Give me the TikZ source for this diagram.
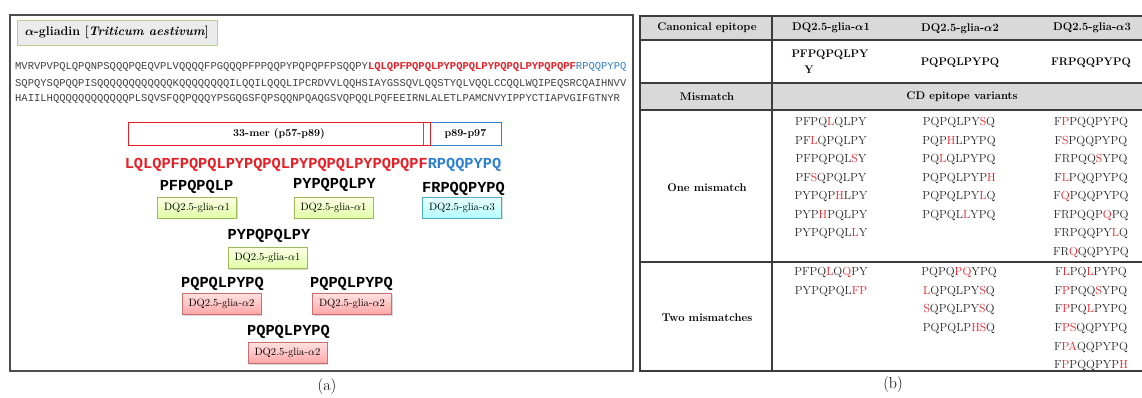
\documentclass[tikz,border=0pt]{standalone}
\usepackage{amsmath}
\usepackage{fontspec}
\newfontfamily\seqfont{Liberation Mono}
\usetikzlibrary{positioning,shadows}

\definecolor{seqred}{RGB}{232,30,37}
\definecolor{seqblue}{RGB}{45,128,205}
\definecolor{glgreen}{RGB}{155,187,89}
\definecolor{glblue}{RGB}{75,172,198}
\definecolor{glred}{RGB}{205,110,110}
\definecolor{bandgray}{RGB}{217,217,217}
\definecolor{rulegray}{RGB}{60,60,60}
\newcommand{\mut}[1]{\textcolor{seqred}{#1}}

\begin{document}
\begin{tikzpicture}[
  x=1pt, y=-1pt,
  seq/.style={font=\seqfont\fontsize{10.5}{12}\selectfont, text=black!75, anchor=west, inner sep=0pt},
  ep/.style={font=\seqfont\bfseries\fontsize{15.3}{16}\selectfont, inner sep=0pt},
  dq/.style={draw, minimum width=79pt, minimum height=21pt, inner sep=0pt,
             font=\fontsize{10.6}{12}\selectfont,
             drop shadow={opacity=0.3, shadow xshift=1pt, shadow yshift=-1pt}},
  dqa/.style={dq, draw=glgreen, top color=green!8!yellow!10, bottom color=green!35!yellow!35},
  dqb/.style={dq, draw=glblue, top color=cyan!8, bottom color=cyan!30},
  dqc/.style={dq, draw=glred, top color=red!12, bottom color=red!35},
  hd/.style={font=\bfseries\fontsize{11.2}{13}\selectfont, inner sep=0pt},
  canon/.style={font=\bfseries\fontsize{11}{13}\selectfont, inner sep=0pt},
  var/.style={font=\fontsize{11.7}{13}\selectfont, text=black!85, inner sep=0pt},
  tab/.style={draw=rulegray, line width=1.1pt},
]
\useasboundingbox (0,0) rectangle (1142,398);

% panel (a)
\draw[black!70, line width=1.2pt] (10,15) rectangle (633,371);
\node[draw=glgreen!70, fill=black!8, minimum width=200pt, minimum height=25pt, inner sep=0pt,
      font=\bfseries\fontsize{12.5}{14}\selectfont,
      drop shadow={opacity=0.3, shadow xshift=1pt, shadow yshift=-1pt}]
  (title) at (117,32.5) {$\boldsymbol{\alpha}$-gliadin [\textit{Triticum aestivum}]};

\node[seq] (l1) at (15,67.5) {MVRVPVPQLQPQNPSQQQPQEQVPLVQQQQFPGQQQPFPPQQPYPQPQPFPSQQPY\textcolor{seqred}{\bfseries LQLQPFPQPQLPYPQPQLPYPQPQLPYPQPQPF}\textcolor{seqblue}{RPQQPYPQ}};
\node[seq] (l2) at (15,83.5) {SQPQYSQPQQPISQQQQQQQQQQQQKQQQQQQQQILQQILQQQLIPCRDVVLQQHSIAYGSSQVLQQSTYQLVQQLCCQQLWQIPEQSRCQAIHNVV};
\node[seq] (l3) at (15,99) {HAIILHQQQQQQQQQQQQPLSQVSFQQPQQQYPSGQGSFQPSQQNPQAQGSVQPQQLPQFEEIRNLALETLPAMCNVYIPPYCTIAPVGIFGTNYR};

\node[draw=seqblue, line width=0.9pt, minimum width=78pt, minimum height=23pt, inner sep=0pt,
      font=\bfseries\fontsize{10.5}{12}\selectfont] (tail) at (462,133.5) {\hspace*{7pt}p89-p97};
\node[draw=seqred, line width=0.9pt, minimum width=302pt, minimum height=23pt, inner sep=0pt,
      font=\bfseries\fontsize{10.5}{12}\selectfont] (mer) at (279,133.5) {33-mer (p57-p89)};

\node[ep] (core) at (313,165) {\textcolor{seqred}{LQLQPFPQPQLPYPQPQLPYPQPQLPYPQPQPF}\textcolor{seqblue}{RPQQPYPQ}};

\node[dqa] (dq1) at (197,207.5)   {DQ2.5-glia-$\alpha$1};
\node[dqa] (dq2) at (333.5,207.5) {DQ2.5-glia-$\alpha$1};
\node[dqb] (dq3) at (462,207.5)   {DQ2.5-glia-$\alpha$3};
\node[dqa] (dq4) at (267.5,258)   {DQ2.5-glia-$\alpha$1};
\node[dqc] (dq5) at (221.5,304)   {DQ2.5-glia-$\alpha$2};
\node[dqc] (dq6) at (352,304)     {DQ2.5-glia-$\alpha$2};
\node[dqc] (dq7) at (287.5,353)   {DQ2.5-glia-$\alpha$2};

\node[ep] (ep1) at (196.5,187) {PFPQPQLP};
\node[ep] (ep2) at (334.5,185) {PYPQPQLPY};
\node[ep] (ep3) at (463.5,189) {FRPQQPYPQ};
\node[ep] (ep4) at (269,236)   {PYPQPQLPY};
\node[ep] (ep5) at (222.5,284) {PQPQLPYPQ};
\node[ep] (ep6) at (351.5,284) {PQPQLPYPQ};
\node[ep] (ep7) at (288.5,332) {PQPQLPYPQ};

\node[font=\fontsize{16}{18}\selectfont] (capa) at (327,387) {(a)};

% panel (b)
\fill[bandgray] (640,16) rectangle (1142,40);
\fill[bandgray] (640,83) rectangle (1142,110);
\draw[tab] (1142,16) -- (640,16) -- (640,371) -- (1142,371);
\draw[tab] (640,40) -- (1142,40);
\draw[tab] (640,83) -- (1142,83);
\draw[tab] (640,110) -- (1142,110);
\draw[tab] (640,262) -- (1142,262);
\draw[tab] (772,16) -- (772,371);

\node[hd] (hcan) at (707,28)  {Canonical epitope};
\node[hd] (ha1)  at (831,28)  {DQ2.5-glia-$\boldsymbol{\alpha}$1};
\node[hd] (ha2)  at (960,29)  {DQ2.5-glia-$\boldsymbol{\alpha}$2};
\node[hd] (ha3)  at (1092,28) {DQ2.5-glia-$\boldsymbol{\alpha}$3};

\node[canon] (c1)  at (830,55)   {PFPQPQLPY};
\node[canon] (c1y) at (809,70)   {Y};
\node[canon] (c2)  at (960,63)   {PQPQLPYPQ};
\node[canon] (c3)  at (1091,63)  {FRPQQPYPQ};

\node[hd] (hmis) at (707,97) {Mismatch};
\node[hd] (hcd)  at (962,97) {CD epitope variants};
\node[hd] (hone) at (707,188) {One mismatch};
\node[hd] (htwo) at (707,318) {Two mismatches};

% one mismatch
\node[var] (o11) at (831,123)   {PFPQ\mut{L}QLPY};
\node[var] (o12) at (831,141.5) {PF\mut{L}QPQLPY};
\node[var] (o13) at (831,160)   {PFPQPQL\mut{S}Y};
\node[var] (o14) at (831,178.5) {PF\mut{S}QPQLPY};
\node[var] (o15) at (831,197)   {PYPQP\mut{H}LPY};
\node[var] (o16) at (831,215.5) {PYP\mut{H}PQLPY};
\node[var] (o17) at (831,234)   {PYPQPQL\mut{L}Y};

\node[var] (o21) at (959,123)   {PQPQLPY\mut{S}Q};
\node[var] (o22) at (959,141.5) {PQP\mut{H}LPYPQ};
\node[var] (o23) at (959,160)   {PQ\mut{L}QLPYPQ};
\node[var] (o24) at (959,178.5) {PQPQLPYP\mut{H}};
\node[var] (o25) at (959,197)   {PQPQLPY\mut{L}Q};
\node[var] (o26) at (959,215.5) {PQPQL\mut{L}YPQ};

\node[var] (o31) at (1091,123)   {F\mut{P}PQQPYPQ};
\node[var] (o32) at (1091,141.5) {F\mut{S}PQQPYPQ};
\node[var] (o33) at (1091,160)   {FRPQQ\mut{S}YPQ};
\node[var] (o34) at (1091,178.5) {F\mut{L}PQQPYPQ};
\node[var] (o35) at (1091,197)   {F\mut{Q}PQQPYPQ};
\node[var] (o36) at (1091,215.5) {FRPQQP\mut{Q}PQ};
\node[var] (o37) at (1091,234)   {FRPQQPY\mut{L}Q};
\node[var] (o38) at (1091,252.5) {FR\mut{Q}QQPYPQ};

% two mismatches
\node[var] (t11) at (831,273)   {PFPQ\mut{L}Q\mut{Q}PY};
\node[var] (t12) at (831,291.5) {PYPQPQL\mut{FP}};

\node[var] (t21) at (959,273)   {PQPQ\mut{PQ}YPQ};
\node[var] (t22) at (959,291.5) {\mut{L}QPQLPY\mut{S}Q};
\node[var] (t23) at (959,310)   {\mut{S}QPQLPY\mut{S}Q};
\node[var] (t24) at (959,328.5) {PQPQLP\mut{HS}Q};

\node[var] (t31) at (1091,273)   {F\mut{L}PQ\mut{L}PYPQ};
\node[var] (t32) at (1091,291.5) {F\mut{P}PQQ\mut{S}YPQ};
\node[var] (t33) at (1091,310)   {F\mut{P}PQ\mut{L}PYPQ};
\node[var] (t34) at (1091,328.5) {F\mut{PS}QQPYPQ};
\node[var] (t35) at (1091,347)   {F\mut{PA}QQPYPQ};
\node[var] (t36) at (1091,365.5) {F\mut{P}PQQPYP\mut{H}};

\node[font=\fontsize{16}{18}\selectfont] (capb) at (893,385) {(b)};
\end{tikzpicture}
\end{document}
